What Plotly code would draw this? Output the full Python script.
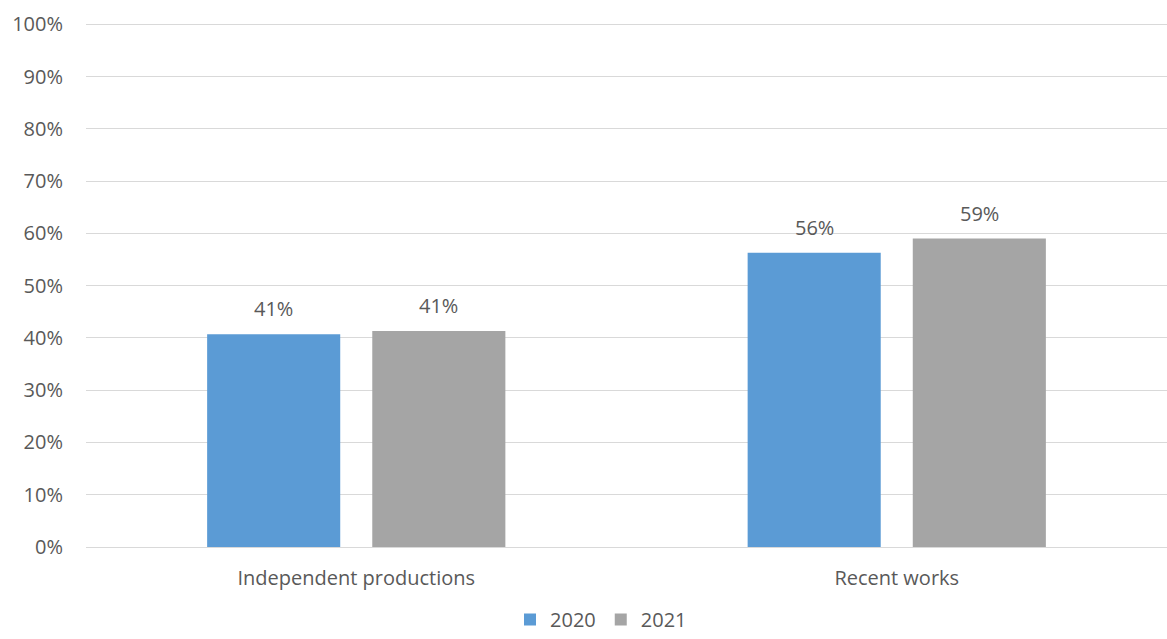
import plotly.graph_objects as go

categories = ["Independent productions", "Recent works"]
years = ["2020", "2021"]
share_2020 = [0.407, 0.563]
share_2021 = [0.413, 0.590]
colors = {"2020": "#5B9BD5", "2021": "#A5A5A5"}
y_ticks = [i / 10 for i in range(11)]

TEXT = "#595959"
FONT = "Open Sans"
SIZE = 20

fig = go.Figure()
for year, vals in zip(years, [share_2020, share_2021]):
    fig.add_trace(go.Bar(
        name=year, x=categories, y=vals,
        marker=dict(color=colors[year], line=dict(width=0)),
    ))

# value labels above each bar, offset to the bar's slot within its group
slot_px = 165
for i, (year, vals) in enumerate(zip(years, [share_2020, share_2021])):
    offset = (i - 0.5) * slot_px
    for cat, v in zip(categories, vals):
        fig.add_annotation(
            x=cat, y=v, text=f"{v:.0%}", showarrow=False,
            xshift=offset, yshift=10, yanchor="bottom",
            font=dict(family=FONT, size=SIZE, color=TEXT),
        )

fig.update_layout(
    width=1167, height=639,
    margin=dict(l=86, r=0, t=19, b=92, autoexpand=False),
    paper_bgcolor="white", plot_bgcolor="white",
    barmode="group", bargap=0.389, bargroupgap=0.194,
    font=dict(family=FONT, size=SIZE, color=TEXT),
    showlegend=True,
    legend=dict(orientation="h", x=0.515, xref="container", xanchor="center",
                y=-0.009, yref="container", yanchor="bottom",
                font=dict(family=FONT, size=SIZE, color=TEXT),
                itemwidth=30, tracegroupgap=0),
    xaxis=dict(showgrid=False, showline=False, ticks="", ticklabelstandoff=17,
               tickfont=dict(family=FONT, size=SIZE, color=TEXT)),
    yaxis=dict(range=[0, 1.01], tickvals=y_ticks, tickformat=".0%",
               showgrid=True, gridcolor="#D9D9D9", gridwidth=1,
               zeroline=True, zerolinecolor="#D9D9D9", zerolinewidth=1,
               showline=False, ticks="", ticklabelstandoff=22,
               tickfont=dict(family=FONT, size=SIZE, color=TEXT)),
)

fig.write_html("out.html")
